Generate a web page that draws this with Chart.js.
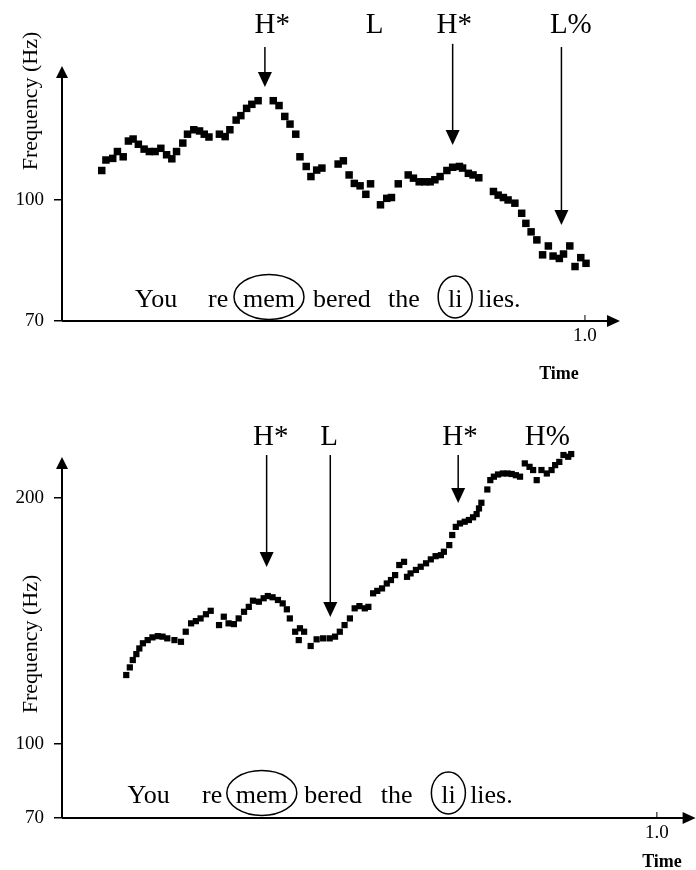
<!DOCTYPE html>
<html>
<head>
<meta charset="utf-8">
<script src="https://cdn.jsdelivr.net/npm/chart.js@4.4.0/dist/chart.umd.min.js"></script>
<style>
  body { margin: 0; background: #fff; }
  .panel { position: absolute; left: 0; width: 696px; }
</style>
</head>
<body>
<div class="panel" style="top:0;height:410px"><canvas id="topChart" width="696" height="410"></canvas></div>
<div class="panel" style="top:410px;height:460px"><canvas id="bottomChart" width="696" height="460"></canvas></div>
<script>
// --- top panel: falling contour ---
const topTimes = [.076,.084,.097,.106,.117,.127,.136,.146,.157,.167,
  .178,.189,.200,.210,.219,.231,.240,.252,.263,.272,
  .281,.301,.312,.321,.333,.342,.353,.363,.375,.404,
  .415,.426,.436,.447,.455,.467,.476,.487,.497,.528,
  .538,.549,.559,.570,.581,.590,.609,.621,.630,.643,
  .662,.672,.683,.694,.704,.713,.723,.736,.747,.760,
  .766,.777,.786,.797,.825,.834,.844,.853,.866,.879,
  .887,.897,.908,.919,.930,.939,.951,.959,.971,.981,
  .992,1.002];
const topFreqs = [107.3,109.9,110.3,112.0,110.7,114.6,115.1,113.8,112.6,112.0,
  112.0,112.8,111.2,110.2,112.0,114.1,116.3,117.4,117.1,116.3,
  115.6,116.3,115.7,117.4,119.8,120.9,122.7,123.7,124.6,124.6,
  123.4,120.7,118.8,116.3,110.7,108.3,105.8,107.4,107.9,108.9,
  109.7,106.2,104.1,103.5,101.4,104.0,98.8,100.4,100.6,104.0,
  106.2,105.4,104.5,104.5,104.5,105.0,105.8,107.3,108.1,108.3,
  107.9,106.6,106.2,105.5,102.1,101.2,100.6,100.0,99.2,96.7,
  94.2,92.1,90.1,86.4,88.6,86.1,85.5,86.6,88.6,83.5,
  85.7,84.3];
const topYTicks = [70, 100];
const topTones = ['H*', 'L', 'H*', 'L%'];
const topToneTimes = [.402, .598, .750, .973];
const topArrowTimes = [.388, null, .747, .955];
const topArrowTops = [137.9, null, 138.7, 137.9];
const topArrowTips = [128.0, null, 113.6, 93.8];
const topWordTimes = [.1396, .2792, .3461, .4799, .6233, .738, .7954];

// --- bottom panel: rising contour ---
const bottomTimes = [.108,.114,.119,.125,.130,.136,.144,.152,.161,.169,
  .177,.189,.200,.208,.217,.225,.233,.242,.250,.264,
  .272,.280,.289,.297,.306,.314,.321,.331,.339,.346,
  .354,.363,.371,.378,.383,.392,.398,.400,.407,.418,
  .428,.439,.450,.459,.467,.475,.484,.492,.500,.509,
  .515,.523,.530,.538,.546,.553,.560,.567,.575,.580,
  .586,.595,.603,.612,.620,.628,.637,.642,.651,.656,
  .662,.669,.677,.684,.691,.697,.701,.705,.715,.720,
  .726,.733,.741,.749,.756,.763,.770,.778,.786,.792,
  .798,.806,.815,.823,.829,.836,.843,.851,.856];
const bottomFreqs = [128.1,131.2,134.2,136.6,138.9,141.0,142.3,143.4,143.9,143.7,
  143.0,142.3,141.6,145.7,149.1,150.0,151.1,152.8,154.2,148.4,
  151.8,149.1,148.8,151.1,153.8,155.8,158.3,157.9,159.3,160.2,
  159.7,158.6,157.2,154.8,151.1,145.7,142.3,147.1,145.7,139.9,
  142.6,143.0,143.0,143.7,145.7,148.4,151.1,155.2,156.1,155.2,
  155.8,161.3,162.3,163.3,165.3,166.7,168.7,172.8,174.1,168.0,
  169.4,170.8,172.1,173.5,175.1,176.4,176.8,178.2,180.9,185.0,
  188.3,189.7,190.4,191.1,192.2,193.5,195.8,198.1,203.5,207.3,
  208.7,209.6,210.0,210.0,209.8,209.3,208.7,214.1,212.7,211.4,
  207.3,211.4,210.0,211.4,213.4,214.7,217.5,216.8,217.9];
const bottomYTicks = [70, 100, 200];
const bottomTones = ['H*', 'L', 'H*', 'H%'];
const bottomToneTimes = [.351, .449, .669, .816];
const bottomArrowTimes = [.344, .451, .666, null];
const bottomArrowTops = [217.5, 217.5, 217.5, null];
const bottomArrowTips = [172.0, 151.7, 198.0, null];
const bottomWordTimes = [.1102, .2354, .2922, .4073, .5359, .6374, .6861];

// shared sentence
const words = ['You', 're', 'mem', 'bered', 'the', 'li', 'lies.'];
const circled = { 2: [35, 22.5], 5: [17, 21] };

const SERIF = '"Liberation Serif", "Times New Roman", serif';

function arrowHead(ctx, x, y, dir, len, half) {
    ctx.beginPath();
    ctx.moveTo(x, y);
    if (dir === 'down') { ctx.lineTo(x - half, y - len); ctx.lineTo(x + half, y - len); }
    else if (dir === 'up') { ctx.lineTo(x - half, y + len); ctx.lineTo(x + half, y + len); }
    else { ctx.lineTo(x - len, y - half); ctx.lineTo(x - len, y + half); }
    ctx.closePath();
    ctx.fill();
}

/**
 * Axes with arrows, tone labels, sentence and titles
 */
function decor(p) {
    return {
        id: 'decor',
        afterDraw(chart) {
            const ctx = chart.ctx;
            const a = chart.chartArea;
            const xs = chart.scales.x, ys = chart.scales.y;
            ctx.save();
            ctx.fillStyle = '#000';
            ctx.strokeStyle = '#000';

            // axes
            ctx.lineWidth = 2;
            ctx.beginPath();
            ctx.moveTo(a.left, a.bottom);
            ctx.lineTo(a.left, a.top + 8);
            ctx.stroke();
            arrowHead(ctx, a.left, a.top, 'up', 12, 6);
            const tipX = a.right + p.overshoot;
            ctx.beginPath();
            ctx.moveTo(a.left, a.bottom);
            ctx.lineTo(tipX - 8, a.bottom);
            ctx.stroke();
            arrowHead(ctx, tipX, a.bottom, 'right', 13, 6);

            // small upward tick at t = 1.0
            ctx.lineWidth = 1;
            const t1 = xs.getPixelForValue(1);
            ctx.beginPath();
            ctx.moveTo(t1, a.bottom);
            ctx.lineTo(t1, a.bottom - 6);
            ctx.stroke();

            // tone labels and arrows
            ctx.font = '29px ' + SERIF;
            ctx.textAlign = 'center';
            ctx.textBaseline = 'alphabetic';
            p.tones.forEach((lab, i) => {
                ctx.fillText(lab, xs.getPixelForValue(p.toneTimes[i]), ys.getPixelForValue(p.toneFreq));
                if (p.arrowTimes[i] == null) return;
                const ax = xs.getPixelForValue(p.arrowTimes[i]);
                const y0 = ys.getPixelForValue(p.arrowTops[i]);
                const y1 = ys.getPixelForValue(p.arrowTips[i]);
                ctx.lineWidth = 1.5;
                ctx.beginPath();
                ctx.moveTo(ax, y0);
                ctx.lineTo(ax, y1 - 10);
                ctx.stroke();
                arrowHead(ctx, ax, y1, 'down', 15, 7);
            });

            // sentence with circled syllables
            ctx.font = '26px ' + SERIF;
            ctx.textAlign = 'left';
            const by = ys.getPixelForValue(p.wordFreq);
            words.forEach((w, i) => {
                const wx = xs.getPixelForValue(p.wordTimes[i]);
                ctx.fillText(w, wx, by);
                if (circled[i]) {
                    const cw = ctx.measureText(w).width;
                    ctx.lineWidth = 1.5;
                    ctx.beginPath();
                    ctx.ellipse(wx + cw / 2, by - 10, circled[i][0], circled[i][1], 0, 0, Math.PI * 2);
                    ctx.stroke();
                }
            });

            // y title
            ctx.save();
            ctx.translate(31, p.yTitleY);
            ctx.rotate(-Math.PI / 2);
            ctx.font = '22px ' + SERIF;
            ctx.textAlign = 'center';
            ctx.textBaseline = 'middle';
            ctx.fillText('Frequency (Hz)', 0, 0);
            ctx.restore();

            // x title
            ctx.font = 'bold 18px ' + SERIF;
            ctx.textAlign = 'center';
            ctx.fillText('Time', p.timeX, p.timeY);

            ctx.restore();
        }
    };
}

function makeChart(id, p) {
    const el = document.getElementById(id);
    return new Chart(el, {
        type: 'scatter',
        data: {
            datasets: [{
                data: p.times.map((t, i) => ({ x: t, y: p.freqs[i] })),
                pointStyle: 'rect',
                pointRadius: p.radius,
                backgroundColor: '#000',
                borderColor: '#000',
                borderWidth: 0,
                clip: false
            }]
        },
        options: {
            responsive: false,
            animation: false,
            layout: { padding: { left: 0, top: p.top, right: p.right, bottom: 0 } },
            plugins: { legend: { display: false }, tooltip: { enabled: false } },
            scales: {
                x: {
                    type: 'linear',
                    min: 0,
                    max: p.xMax,
                    afterFit(s) { s.height = p.xAxisHeight; },
                    afterBuildTicks(s) { s.ticks = [{ value: 1 }]; },
                    ticks: {
                        callback: v => v.toFixed(1),
                        font: { family: SERIF, size: 19 },
                        color: '#000',
                        padding: 4,
                        maxRotation: 0
                    },
                    grid: { display: false, drawTicks: false },
                    border: { display: false }
                },
                y: {
                    min: 70,
                    max: p.yMax,
                    afterFit(s) { s.width = 62; },
                    afterBuildTicks(s) { s.ticks = p.yTicks.map(v => ({ value: v })); },
                    ticks: {
                        font: { family: SERIF, size: 19 },
                        color: '#000',
                        padding: 10
                    },
                    grid: { drawOnChartArea: false, drawTicks: true, tickLength: 8, color: '#000', lineWidth: 1.5 },
                    border: { display: false }
                }
            }
        },
        plugins: [decor(p)]
    });
}

makeChart('topChart', {
    times: topTimes, freqs: topFreqs, yTicks: topYTicks,
    tones: topTones, toneTimes: topToneTimes, toneFreq: 141.4,
    arrowTimes: topArrowTimes, arrowTops: topArrowTops, arrowTips: topArrowTips,
    wordTimes: topWordTimes, wordFreq: 73.5,
    radius: 5.3, top: 66, right: 76, xMax: 1.067, yMax: 133.2, xAxisHeight: 89,
    overshoot: 0, yTitleY: 101, timeX: 559, timeY: 379
});

makeChart('bottomChart', {
    times: bottomTimes, freqs: bottomFreqs, yTicks: bottomYTicks,
    tones: bottomTones, toneTimes: bottomToneTimes, toneFreq: 221.5,
    arrowTimes: bottomArrowTimes, arrowTops: bottomArrowTops, arrowTips: bottomArrowTips,
    wordTimes: bottomWordTimes, wordFreq: 76.1,
    radius: 4.4, top: 47, right: 0, xMax: 1.0584, yMax: 216.7, xAxisHeight: 52,
    overshoot: 4, yTitleY: 234, timeX: 662, timeY: 457
});
</script>
</body>
</html>
